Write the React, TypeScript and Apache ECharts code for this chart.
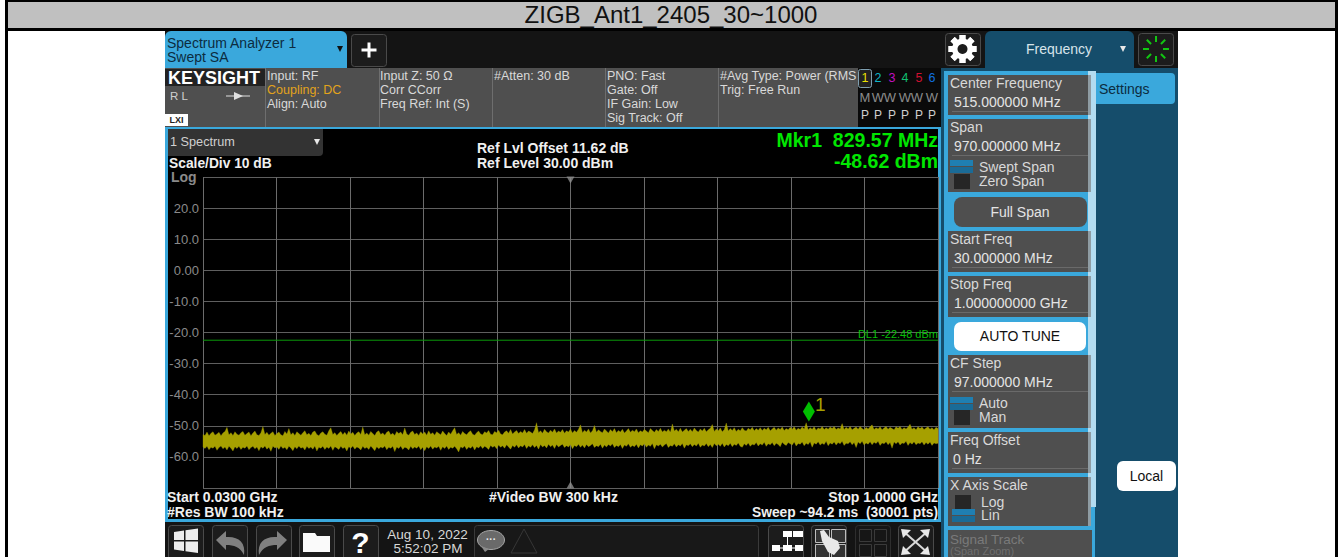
import React, { useEffect, useRef } from "react";
import * as echarts from "echarts";

const chartTitle = "ZIGB_Ant1_2405_30~1000";
const startFreqMHz = 30;
const spanMHz = 970;
const centerOffsetMHz = 485;
const markerFreqMHz = 829.57;
const markerLevel = -48.62;
const displayLine = -22.48;

// upper envelope of the noise trace, dBm
const traceTop = [
  -52.8,-53.1,-52.0,-53.2,-52.4,-51.9,-53.0,-52.6,-52.1,-53.2,-52.3,-51.8,-50.5,-52.9,-52.2,-53.1,-51.9,-52.7,-53.0,-52.2,
  -51.8,-53.0,-52.5,-52.0,-53.2,-52.3,-51.7,-52.9,-53.1,-52.2,-50.2,-52.8,-52.1,-53.0,-52.4,-51.9,-53.1,-52.5,-52.0,-52.9,
  -53.2,-51.8,-52.6,-50.9,-52.9,-52.2,-53.1,-51.9,-52.5,-53.0,-52.2,-51.6,-52.9,-52.4,-53.1,-52.0,-51.7,-52.8,-53.2,-52.3,
  -51.9,-52.7,-53.0,-51.6,-50.6,-52.8,-52.2,-53.1,-52.4,-51.8,-52.9,-52.1,-53.0,-51.7,-52.6,-52.1,-53.1,-52.3,-51.9,-52.8,
  -50.4,-52.9,-52.3,-53.0,-51.8,-52.5,-53.1,-52.0,-51.6,-52.8,-52.3,-53.0,-52.1,-51.7,-52.9,-52.4,-53.1,-51.8,-52.5,-52.0,
  -52.9,-50.7,-52.6,-53.0,-52.1,-51.7,-52.8,-52.3,-53.1,-51.9,-52.6,-52.0,-53.0,-51.6,-52.7,-52.2,-53.0,-51.9,-52.4,-52.9,
  -51.7,-52.5,-53.1,-52.0,-52.7,-51.6,-50.6,-52.8,-52.2,-53.0,-51.8,-52.5,-52.9,-52.1,-51.6,-52.7,-53.0,-52.2,-51.7,-52.6,
  -52.9,-51.9,-52.3,-51.5,-52.7,-52.9,-51.8,-52.2,-51.4,-52.6,-52.9,-52.0,-51.6,-52.4,-51.2,-52.6,-52.0,-51.5,-52.5,-51.8,
  -52.3,-51.2,-52.4,-51.7,-52.0,-52.5,-51.3,-49.0,-52.2,-51.6,-52.4,-51.1,-51.9,-52.3,-51.4,-52.1,-51.0,-52.3,-51.7,-52.1,
  -51.2,-52.4,-51.6,-52.0,-51.0,-52.3,-51.5,-52.1,-51.1,-49.7,-52.2,-51.4,-52.0,-51.0,-52.3,-51.6,-49.9,-52.1,-51.3,-51.8,
  -52.2,-51.0,-51.7,-52.3,-51.2,-51.9,-50.9,-52.2,-51.5,-52.0,-51.1,-52.3,-51.7,-50.9,-52.1,-51.4,-51.9,-51.0,-52.2,-51.6,
  -52.0,-51.1,-51.7,-52.2,-50.9,-51.5,-52.1,-51.2,-51.8,-50.8,-52.0,-51.4,-51.9,-51.0,-52.1,-49.4,-51.7,-51.1,-51.9,-50.8,
  -52.0,-51.4,-50.9,-51.8,-51.1,-51.9,-50.7,-51.5,-52.0,-51.0,-51.7,-50.8,-51.9,-51.3,-50.8,-49.6,-51.8,-51.0,-51.6,-50.7,
  -51.9,-51.2,-49.1,-51.7,-50.9,-51.5,-50.6,-51.8,-51.1,-51.6,-50.6,-51.4,-51.7,-50.8,-51.3,-50.5,-51.6,-50.9,-51.4,-50.6,
  -51.5,-50.8,-51.3,-50.5,-51.6,-51.0,-50.5,-51.4,-50.7,-51.2,-50.4,-51.5,-50.9,-51.3,-50.5,-51.1,-50.3,-51.4,-50.8,-51.2,
  -50.4,-51.0,-49.0,-51.3,-50.6,-51.1,-50.3,-51.4,-50.7,-51.0,-50.2,-51.2,-50.6,-51.1,-50.4,-50.9,-50.2,-51.2,-50.7,-51.0,
  -49.3,-51.2,-50.5,-51.0,-50.2,-51.3,-50.8,-50.4,-51.1,-50.2,-50.9,-51.3,-50.5,-51.0,-50.3,-49.7,-51.2,-50.6,-51.0,-50.3,
  -51.3,-50.7,-50.2,-51.1,-50.5,-50.9,-51.3,-50.3,-50.8,-50.2,-51.2,-50.6,-51.0,-50.4,-49.5,-51.1,-50.6,-51.3,-50.3,-50.9,
  -50.4,-51.2,-50.7,-50.3,-51.1,-50.6,-51.3,-50.5,-50.9,
];

// lower envelope of the noise trace, dBm
const traceBottom = [
  -56.8,-57.3,-56.6,-57.7,-56.9,-57.2,-56.6,-57.9,-57.0,-56.5,-57.4,-56.8,-57.8,-56.6,-57.2,-58.1,-56.7,-57.3,-56.6,-57.6,
  -56.9,-57.2,-56.5,-57.7,-57.0,-56.6,-57.4,-56.8,-58.0,-56.7,-57.2,-56.5,-57.5,-56.9,-58.2,-56.6,-57.1,-56.8,-57.6,-56.5,
  -57.3,-56.9,-57.7,-56.6,-57.1,-58.0,-56.7,-57.4,-56.5,-57.2,-56.9,-57.8,-56.6,-57.3,-56.8,-57.5,-56.5,-58.1,-56.9,-57.2,
  -56.6,-57.6,-56.8,-57.3,-56.5,-57.9,-56.7,-57.1,-57.6,-56.6,-57.3,-56.9,-58.1,-56.7,-57.2,-56.5,-57.5,-56.8,-57.1,-57.8,
  -56.6,-57.3,-56.9,-57.6,-56.5,-57.2,-58.0,-56.7,-57.4,-56.8,-57.1,-56.5,-57.7,-56.9,-57.2,-56.6,-58.3,-56.8,-57.3,-56.5,
  -57.6,-56.9,-57.1,-57.8,-56.6,-57.4,-56.8,-57.2,-56.5,-57.7,-56.9,-58.0,-56.7,-57.3,-56.5,-57.5,-56.8,-57.1,-56.6,-57.9,
  -56.7,-57.3,-56.5,-57.6,-56.9,-57.2,-56.6,-57.4,-58.4,-56.7,-57.1,-56.5,-57.6,-56.8,-57.2,-56.5,-57.8,-56.7,-57.1,-56.4,
  -57.3,-56.6,-57.0,-57.6,-56.3,-56.9,-56.5,-57.4,-56.2,-56.9,-56.4,-57.2,-56.1,-56.8,-57.5,-56.3,-56.9,-56.1,-57.1,-56.4,
  -56.8,-56.0,-57.3,-56.4,-56.9,-56.1,-57.0,-56.3,-57.5,-56.0,-56.8,-56.3,-57.1,-55.9,-56.7,-56.2,-57.3,-56.0,-56.8,-56.3,
  -55.9,-57.0,-56.4,-56.8,-56.0,-57.4,-56.3,-56.7,-55.9,-56.9,-56.2,-57.1,-56.0,-56.7,-56.3,-55.8,-57.0,-56.4,-56.7,-55.9,
  -57.2,-56.2,-56.8,-56.0,-56.5,-55.8,-57.0,-56.3,-56.7,-56.0,-57.3,-56.2,-56.6,-55.8,-56.9,-56.3,-56.7,-55.9,-57.1,-56.1,
  -56.5,-55.8,-56.9,-56.2,-56.6,-55.7,-57.4,-56.1,-56.5,-55.9,-56.8,-56.2,-55.7,-57.0,-56.3,-56.6,-55.8,-56.8,-56.1,-56.5,
  -55.7,-57.2,-56.1,-56.4,-55.8,-56.7,-56.0,-56.5,-55.6,-56.9,-56.2,-56.5,-55.7,-56.7,-56.0,-57.0,-55.7,-56.4,-55.9,-56.6,
  -55.6,-56.8,-56.0,-56.4,-55.6,-56.7,-55.9,-56.3,-55.5,-56.6,-56.9,-55.8,-56.3,-55.5,-56.6,-55.9,-56.2,-55.4,-56.5,-55.8,
  -56.2,-55.3,-56.6,-55.8,-56.1,-55.4,-56.4,-55.6,-56.0,-56.7,-55.3,-55.9,-56.3,-55.4,-55.8,-56.2,-55.2,-56.5,-55.7,-55.9,
  -55.2,-56.4,-55.6,-56.0,-55.1,-56.9,-55.5,-55.9,-55.1,-56.2,-55.6,-56.0,-55.0,-56.4,-55.5,-55.9,-55.2,-56.2,-55.4,-55.8,
  -55.0,-56.3,-55.6,-55.8,-55.1,-56.1,-55.4,-57.0,-55.2,-55.8,-55.0,-56.2,-55.5,-55.9,-55.1,-56.1,-55.3,-55.7,-55.0,-56.3,
  -55.5,-55.8,-55.1,-56.1,-55.4,-57.2,-55.2,-55.8,-55.1,-56.2,-55.5,-55.7,-55.0,-56.3,-55.4,-55.9,-55.1,-56.1,-55.5,-55.8,
  -55.1,-56.2,-55.4,-55.9,-55.2,-56.3,-55.5,-55.8,-55.6,
];

const FONT = '"Liberation Sans", Arial, sans-serif';
const BLUE = "#3aa8dc";
const TEAL = "#154d6b";
const CELL = "#4f4f4f";
const BTN = "#1c1c1c";

type El = Record<string, any>;

const txt = (x: number, y: number, text: string, size = 14, fill = "#d9d9d9", bold = false, align = "left", z = 5): El => ({
  type: "text", x, y, z,
  style: { text, fill, font: `${bold ? "bold " : ""}${size}px ${FONT}`, textAlign: align, verticalAlign: "middle", textVerticalAlign: "middle" },
});
const box = (x: number, y: number, w: number, h: number, fill: string, r: any = 0, stroke?: string, z = -1): El => ({
  type: "rect", z, shape: { x, y, width: w, height: h, r },
  style: { fill, stroke: stroke || undefined, lineWidth: stroke ? 1 : 0 },
});
const up = (x: number, y: number, w: number, h: number, fill: string, z = 4): El => box(x, y, w, h, fill, 0, undefined, z);
const btn = (x: number, y: number, w: number, h: number): El =>
  box(x + 0.5, y + 0.5, w, h, BTN, 3, "#4a4a4a", 1);
const ln = (x1: number, y1: number, x2: number, y2: number, stroke: string, lineWidth = 1, z = 4): El => ({
  type: "line", z, shape: { x1, y1, x2, y2 }, style: { stroke, lineWidth },
});
const poly = (points: number[][], fill: string, z = 4, stroke?: string): El => ({
  type: "polygon", z, shape: { points }, style: { fill, stroke: stroke || undefined },
});
const caret = (x: number, y: number, fill = "#e8e8e8"): El =>
  poly([[x - 3, y - 3], [x + 3, y - 3], [x, y + 3]], fill);
const toggle = (x: number, y: number): El[] => [
  up(x, y, 23, 6, "#1f7fb2"),
  up(x, y + 7, 23, 6, "#1a6b97"),
];

function uiElements(): El[] {
  const els: El[] = [
    // sheet frame and title
    box(5, 0, 1333, 2, "#000"),
    box(5, 0, 3, 557, "#000"),
    box(1335, 0, 3, 557, "#000"),
    box(8, 2, 1327, 26, "#c0c0c0"),
    box(5, 28, 1333, 3, "#000"),
    txt(671, 14, chartTitle, 24, "#111", false, "center"),
    // analyzer screen
    box(165, 31, 1013, 526, "#141414"),
    box(165, 31, 182, 37, BLUE, [6, 6, 0, 0], undefined, 0),
    txt(167, 43, "Spectrum Analyzer 1", 14, "#0c2c3f"),
    txt(167, 57, "Swept SA", 14, "#0c2c3f"),
    caret(340, 49, "#111"),
    btn(351, 34, 35, 32),
    up(361.5, 48.5, 15, 3, "#fff"),
    up(367.5, 42.5, 3, 15, "#fff"),
    // status bar
    box(165, 68, 693, 59, CELL),
    box(165, 69, 100, 17, "#222"),
    txt(168, 78, "KEYSIGHT", 18, "#fff", true),
    txt(170, 96, "R L", 11.5, "#cfcfcf"),
    ln(226, 96, 250, 96, "#e0e0e0"),
    poly([[234, 92], [234, 100], [243, 96]], "#e0e0e0"),
    up(165, 114, 23, 12, "#fff"),
    txt(176.5, 120, "LXI", 9, "#222", true, "center"),
    ln(265.5, 68, 265.5, 127, "#6e6e6e"),
    ln(379.5, 68, 379.5, 127, "#6e6e6e"),
    ln(492.5, 68, 492.5, 127, "#6e6e6e"),
    ln(605.5, 68, 605.5, 127, "#6e6e6e"),
    ln(718.5, 68, 718.5, 127, "#6e6e6e"),
    txt(267, 75.5, "Input: RF", 12.5),
    txt(267, 89.5, "Coupling: DC", 12.5, "#e2a31c"),
    txt(267, 103.5, "Align: Auto", 12.5),
    txt(380, 75.5, "Input Z: 50 Ω", 12.5),
    txt(380, 89.5, "Corr CCorr", 12.5),
    txt(380, 103.5, "Freq Ref: Int (S)", 12.5),
    txt(494, 75.5, "#Atten: 30 dB", 12.5),
    txt(607, 75.5, "PNO: Fast", 12.5),
    txt(607, 89.5, "Gate: Off", 12.5),
    txt(607, 103.5, "IF Gain: Low", 12.5),
    txt(607, 117.5, "Sig Track: Off", 12.5),
    txt(720, 75.5, "#Avg Type: Power (RMS", 12.5),
    txt(720, 89.5, "Trig: Free Run", 12.5),
    // trace table
    box(858, 68, 83, 59, "#0a0a0a"),
    box(858.5, 69.5, 13, 18, "#222", 2, "#7f9fb0", 0),
  ];
  const traceColors = ["#e8e000", "#10b5c8", "#c010c0", "#10c070", "#d01030", "#1070e0"];
  const traceX = [865, 878, 892, 905, 919, 932];
  const typeX = [865, 878, 890, 905, 917, 932];
  const traceTypes = ["M", "W", "W", "W", "W", "W"];
  traceX.forEach((x, i) => {
    els.push(txt(x, 78, String(i + 1), 12.5, traceColors[i], false, "center"));
    els.push(txt(typeX[i], 97, traceTypes[i], 13, "#8c8c8c", false, "center"));
    els.push(txt(x, 115, "P", 12, "#d0d0d0", false, "center"));
  });

  els.push(
    // plot surround
    box(165, 127, 776, 395, BLUE),
    box(168, 129, 770, 390, "#000"),
    box(168, 129, 155, 27, "#333", [0, 0, 4, 0], undefined, 0),
    txt(170, 142, "1 Spectrum", 12.7, "#d0d0d0"),
    caret(317, 142),
    txt(169, 163, "Scale/Div 10 dB", 13.8, "#f0f0f0", true),
    txt(171, 176.5, "Log", 14, "#8a8a8a", true),
    txt(477, 147.5, "Ref Lvl Offset 11.62 dB", 14, "#f0f0f0", true),
    txt(477, 163, "Ref Level 30.00 dBm", 14, "#f0f0f0", true),
    txt(938, 140, "Mkr1  829.57 MHz", 19.5, "#00e600", true, "right"),
    txt(938, 161, "-48.62 dBm", 19.5, "#00e600", true, "right"),
    txt(938, 333.5, "DL1 -22.48 dBm", 11, "#08c008", false, "right"),
    txt(815, 404, "1", 19, "#a6a000"),
    txt(167, 496.5, "Start 0.0300 GHz", 14, "#f0f0f0", true),
    txt(167, 512, "#Res BW 100 kHz", 14, "#f0f0f0", true),
    txt(489, 496.5, "#Video BW 300 kHz", 14, "#f0f0f0", true),
    txt(938, 496.5, "Stop 1.0000 GHz", 14, "#f0f0f0", true, "right"),
    txt(938, 512, "Sweep ~94.2 ms  (30001 pts)", 13.8, "#f0f0f0", true, "right"),

    // right panel
    box(941, 68, 237, 489, TEAL),
    box(985, 31, 149, 38, TEAL, [6, 6, 0, 0]),
    txt(1059, 49, "Frequency", 14, "#d8e4ea", false, "center"),
    caret(1123, 49),
    btn(945, 33, 35, 32),
    btn(1138, 33, 35, 32),
    box(944, 71, 151, 486, BLUE),
    box(1088, 71, 8, 436, "#b3dcf0", 0, undefined, 0),
    box(1095, 73, 80, 31, BLUE, [0, 4, 4, 0]),
    txt(1099, 88.5, "Settings", 14, "#0c2c3f"),
    // bottom bar buttons
    box(474.5, 525.5, 284, 34, "#181818", 3, "#3a3a3a", 0),
    btn(168, 525, 35, 36),
    btn(212, 525, 35, 36),
    btn(256, 525, 35, 36),
    btn(299, 525, 35, 36),
    btn(343, 525, 35, 36),
    btn(768, 525, 35, 36),
    btn(811, 525, 35, 36),
    box(855.5, 525.5, 35, 36, "#161616", 3, "#2e2e2e", 1),
    btn(898, 525, 35, 36),
    txt(427.5, 534.5, "Aug 10, 2022", 13.5, "#d8d8d8", false, "center"),
    txt(428, 548, "5:52:02 PM", 13.5, "#d8d8d8", false, "center"),
  );

  // settings cells
  const valueCell = (y: number, h: number, label: string, value?: string) => {
    els.push(box(948, y, 140, h, CELL, 0, undefined, 0));
    els.push(up(1088, y, 3, h, "#8f9ca3", 1));
    els.push(txt(950, y + 8, label, 14, "#d9d9d9"));
    if (value) {
      els.push(txt(954, y + 26.5, value, 14, "#e4e4e4"));
      els.push(ln(952, y + 36.5, 1088, y + 36.5, "#6a6a6a"));
    }
  };
  valueCell(75, 40, "Center Frequency", "515.000000 MHz");
  valueCell(119, 73, "Span", "970.000000 MHz");
  els.push(...toggle(950, 160));
  els.push(up(954, 174, 16, 15, "#262626"));
  els.push(txt(979, 167, "Swept Span", 14), txt(979, 181, "Zero Span", 14));
  els.push(box(954, 197, 133, 30, CELL, 8, undefined, 0), txt(1020, 211.5, "Full Span", 14, "#e4e4e4", false, "center"));
  valueCell(231, 41, "Start Freq", "30.000000 MHz");
  valueCell(276, 41, "Stop Freq", "1.000000000 GHz");
  els.push(box(954, 322, 132, 29, "#fff", 7, undefined, 0), txt(1020, 335.5, "AUTO TUNE", 14, "#111", false, "center"));
  valueCell(355, 73, "CF Step", "97.000000 MHz");
  els.push(...toggle(950, 397));
  els.push(up(954, 410, 16, 15, "#262626"));
  els.push(txt(979, 403, "Auto", 14), txt(979, 417, "Man", 14));
  valueCell(432, 41, "Freq Offset");
  els.push(txt(953, 459, "0 Hz", 14, "#e4e4e4"), ln(952, 468.5, 1088, 468.5, "#6a6a6a"));
  valueCell(477, 49, "X Axis Scale");
  els.push(up(955, 495, 16, 14, "#262626"), ...toggle(952, 509));
  els.push(txt(981, 501.5, "Log", 14), txt(981, 515, "Lin", 14));
  els.push(box(948, 530, 144, 27, CELL, 0, undefined, 0));
  els.push(txt(950, 539, "Signal Track", 13.5, "#7a7a7a"), txt(950, 550.5, "(Span Zoom)", 11, "#6e6e6e"));
  els.push(box(1117, 461, 59, 30, "#fff", 6, undefined, 0), txt(1146.5, 475.5, "Local", 14, "#111", false, "center"));

  // gear icon
  for (let k = 0; k < 8; k++) {
    els.push({
      type: "rect", z: 4, x: 962.5, y: 49, rotation: (k * Math.PI) / 4,
      shape: { x: -3, y: -14, width: 6, height: 28 }, style: { fill: "#fff" },
    });
  }
  els.push({ type: "circle", z: 4, shape: { cx: 962.5, cy: 49, r: 10.5 }, style: { fill: "#fff" } });
  els.push({ type: "circle", z: 4, shape: { cx: 962.5, cy: 49, r: 5 }, style: { fill: BTN } });
  // busy spinner
  for (let k = 0; k < 8; k++) {
    const a = (k * Math.PI) / 4;
    els.push(ln(1156 + 7 * Math.cos(a), 49 + 7 * Math.sin(a), 1156 + 13 * Math.cos(a), 49 + 13 * Math.sin(a), "#12c712", 2));
  }
  // windows logo
  els.push(
    poly([[174, 532], [184, 530.5], [184, 540], [174, 540]], "#eee"),
    poly([[185.5, 530.2], [198, 528.5], [198, 540], [185.5, 540]], "#eee"),
    poly([[174, 541.5], [184, 541.5], [184, 551], [174, 549.5]], "#eee"),
    poly([[185.5, 541.5], [198, 541.5], [198, 553], [185.5, 551.3]], "#eee"),
  );
  // undo, redo, folder
  els.push(
    { type: "arrowIcon", z: 4, x: 216, y: 531, scaleX: 1, scaleY: 1, style: { fill: "#808080" } },
    { type: "arrowIcon", z: 4, x: 287, y: 531, scaleX: -1, scaleY: 1, style: { fill: "#808080" } },
    poly([[303, 533], [315, 533], [317, 536], [330, 536], [330, 552], [303, 552]], "#fafafa"),
    txt(360.5, 542, "?", 30, "#fff", true, "center"),
  );
  // chat bubble and warning triangle
  els.push(
    { type: "ellipse", z: 4, shape: { cx: 491, cy: 540, rx: 13.5, ry: 9.5 }, style: { fill: "#6a6a6a", stroke: "#a8a8a8", lineWidth: 1 } },
    poly([[481, 546], [485, 552], [489, 549]], "#8a8a8a"),
    txt(491, 539, "···", 10, "#eee", true, "center"),
    poly([[511, 553], [537, 553], [524, 529]], "transparent", 4, "#363636"),
  );
  // arrange icon
  els.push(
    up(783, 531, 9, 6, "#fff"), up(793, 531, 10, 6, "#fff"),
    up(772, 545, 8, 6, "#fff"), up(783, 545, 9, 6, "#fff"), up(795, 545, 8, 6, "#fff"),
    ln(787.5, 537, 787.5, 545, "#fff"), ln(780, 548, 795, 548, "#fff"),
  );
  // touch icon
  [[815, 529], [831, 529], [815, 544], [831, 544]].forEach(([x, y]) => {
    els.push({ type: "rect", z: 4, shape: { x: x + 0.5, y: y + 0.5, width: 14, height: 13 }, style: { fill: "#333", stroke: "#bdbdbd", lineWidth: 1 } });
  });
  els.push(poly([[820, 531], [824, 530], [829, 537], [838, 541], [840, 548], [834, 555], [828, 552], [822, 541]], "#e8e8e8", 4));
  // disabled window grid
  [[859, 529], [874, 529], [859, 544], [874, 544]].forEach(([x, y]) => {
    els.push({ type: "rect", z: 4, shape: { x: x + 0.5, y: y + 0.5, width: 12, height: 12 }, style: { fill: "#161616", stroke: "#3a3a3a", lineWidth: 1 } });
  });
  // full-screen icon
  els.push(
    ln(903, 531, 928, 553, "#d8d8d8", 2),
    ln(928, 531, 903, 553, "#d8d8d8", 2),
    poly([[901, 529], [911, 530], [903, 538]], "#e8e8e8"),
    poly([[930, 529], [920, 530], [928, 538]], "#e8e8e8"),
    poly([[901, 555], [911, 554], [903, 546]], "#e8e8e8"),
    poly([[930, 555], [920, 554], [928, 546]], "#e8e8e8"),
  );
  return els;
}

export default function App() {
  const ref = useRef<HTMLDivElement>(null);
  useEffect(() => {
    document.body.style.margin = "0";
    document.body.style.background = "#fff";
    echarts.graphic.registerShape(
      "arrowIcon",
      echarts.graphic.extendPath("M0 9 L10 0 L10 6 C22 5 30 11 28 24 C24 16 18 14 10 14 L10 19 Z", {}) as any,
    );
    const chart = echarts.init(ref.current!, undefined, { renderer: "svg" });
    const n = Math.min(traceTop.length, traceBottom.length);
    const trace = traceTop.slice(0, n).map((top, i) => [(i * spanMHz) / (n - 1), traceBottom[i], top]);
    chart.setOption({
      animation: false,
      backgroundColor: "#fff",
      graphic: { elements: uiElements() },
      grid: { left: 203, right: 406, top: 177, bottom: 69, show: false, containLabel: false },
      xAxis: {
        type: "value", min: 0, max: spanMHz, interval: 97,
        axisLabel: { show: false }, axisTick: { show: false },
        axisLine: { show: false },
        splitLine: { show: true, lineStyle: { color: "#6b6b6b", width: 1 } },
      },
      yAxis: {
        type: "value", min: -70, max: 30, interval: 10,
        axisTick: { show: false }, axisLine: { show: false },
        axisLabel: {
          color: "#8a8a8a", fontSize: 13, fontFamily: FONT, margin: 4, padding: [0, 0, 4, 0],
          formatter: (v: number) => (v === 30 || v === -70 ? "" : v === 0 ? "0.00" : v.toFixed(1)),
        },
        splitLine: { show: true, lineStyle: { color: "#5f5f5f", width: 1 } },
      },
      series: [
        {
          type: "line", name: "Display line", symbol: "none", silent: true,
          data: [[0, displayLine], [spanMHz, displayLine]],
          lineStyle: { color: "#0a9a0a", width: 1 }, z: 3,
        },
        {
          type: "custom", name: "Trace 1", silent: true, z: 4,
          data: trace, encode: { x: 0, y: [1, 2] },
          renderItem: (params: any, api: any) => {
            if (params.dataIndex !== 0) return null;
            const upper = trace.map((d) => api.coord([d[0], d[2]]));
            const lower = trace.map((d) => api.coord([d[0], d[1]])).reverse();
            return {
              type: "polygon",
              shape: { points: upper.concat(lower) },
              style: { fill: "#a6a000", stroke: "#a6a000", lineWidth: 0.3 },
            };
          },
        },
        {
          type: "scatter", name: "Centre ticks", silent: true, z: 5,
          symbol: "triangle", symbolSize: [8, 7],
          data: [
            { value: [centerOffsetMHz, 30], symbolRotate: 180, symbolOffset: [0, 3] },
            { value: [centerOffsetMHz, -70], symbolOffset: [0, -3] },
          ],
          itemStyle: { color: "#8c8c8c" },
        },
        {
          type: "scatter", name: "Marker 1", silent: true, z: 6,
          symbol: "diamond", symbolSize: [12, 20], symbolOffset: [0, -10],
          data: [[markerFreqMHz - startFreqMHz, markerLevel]],
          itemStyle: { color: "#00ee00" },
        },
      ],
    });
    return () => chart.dispose();
  }, []);
  return <div ref={ref} style={{ position: "absolute", left: 0, top: 0, width: 1344, height: 557 }} />;
}
